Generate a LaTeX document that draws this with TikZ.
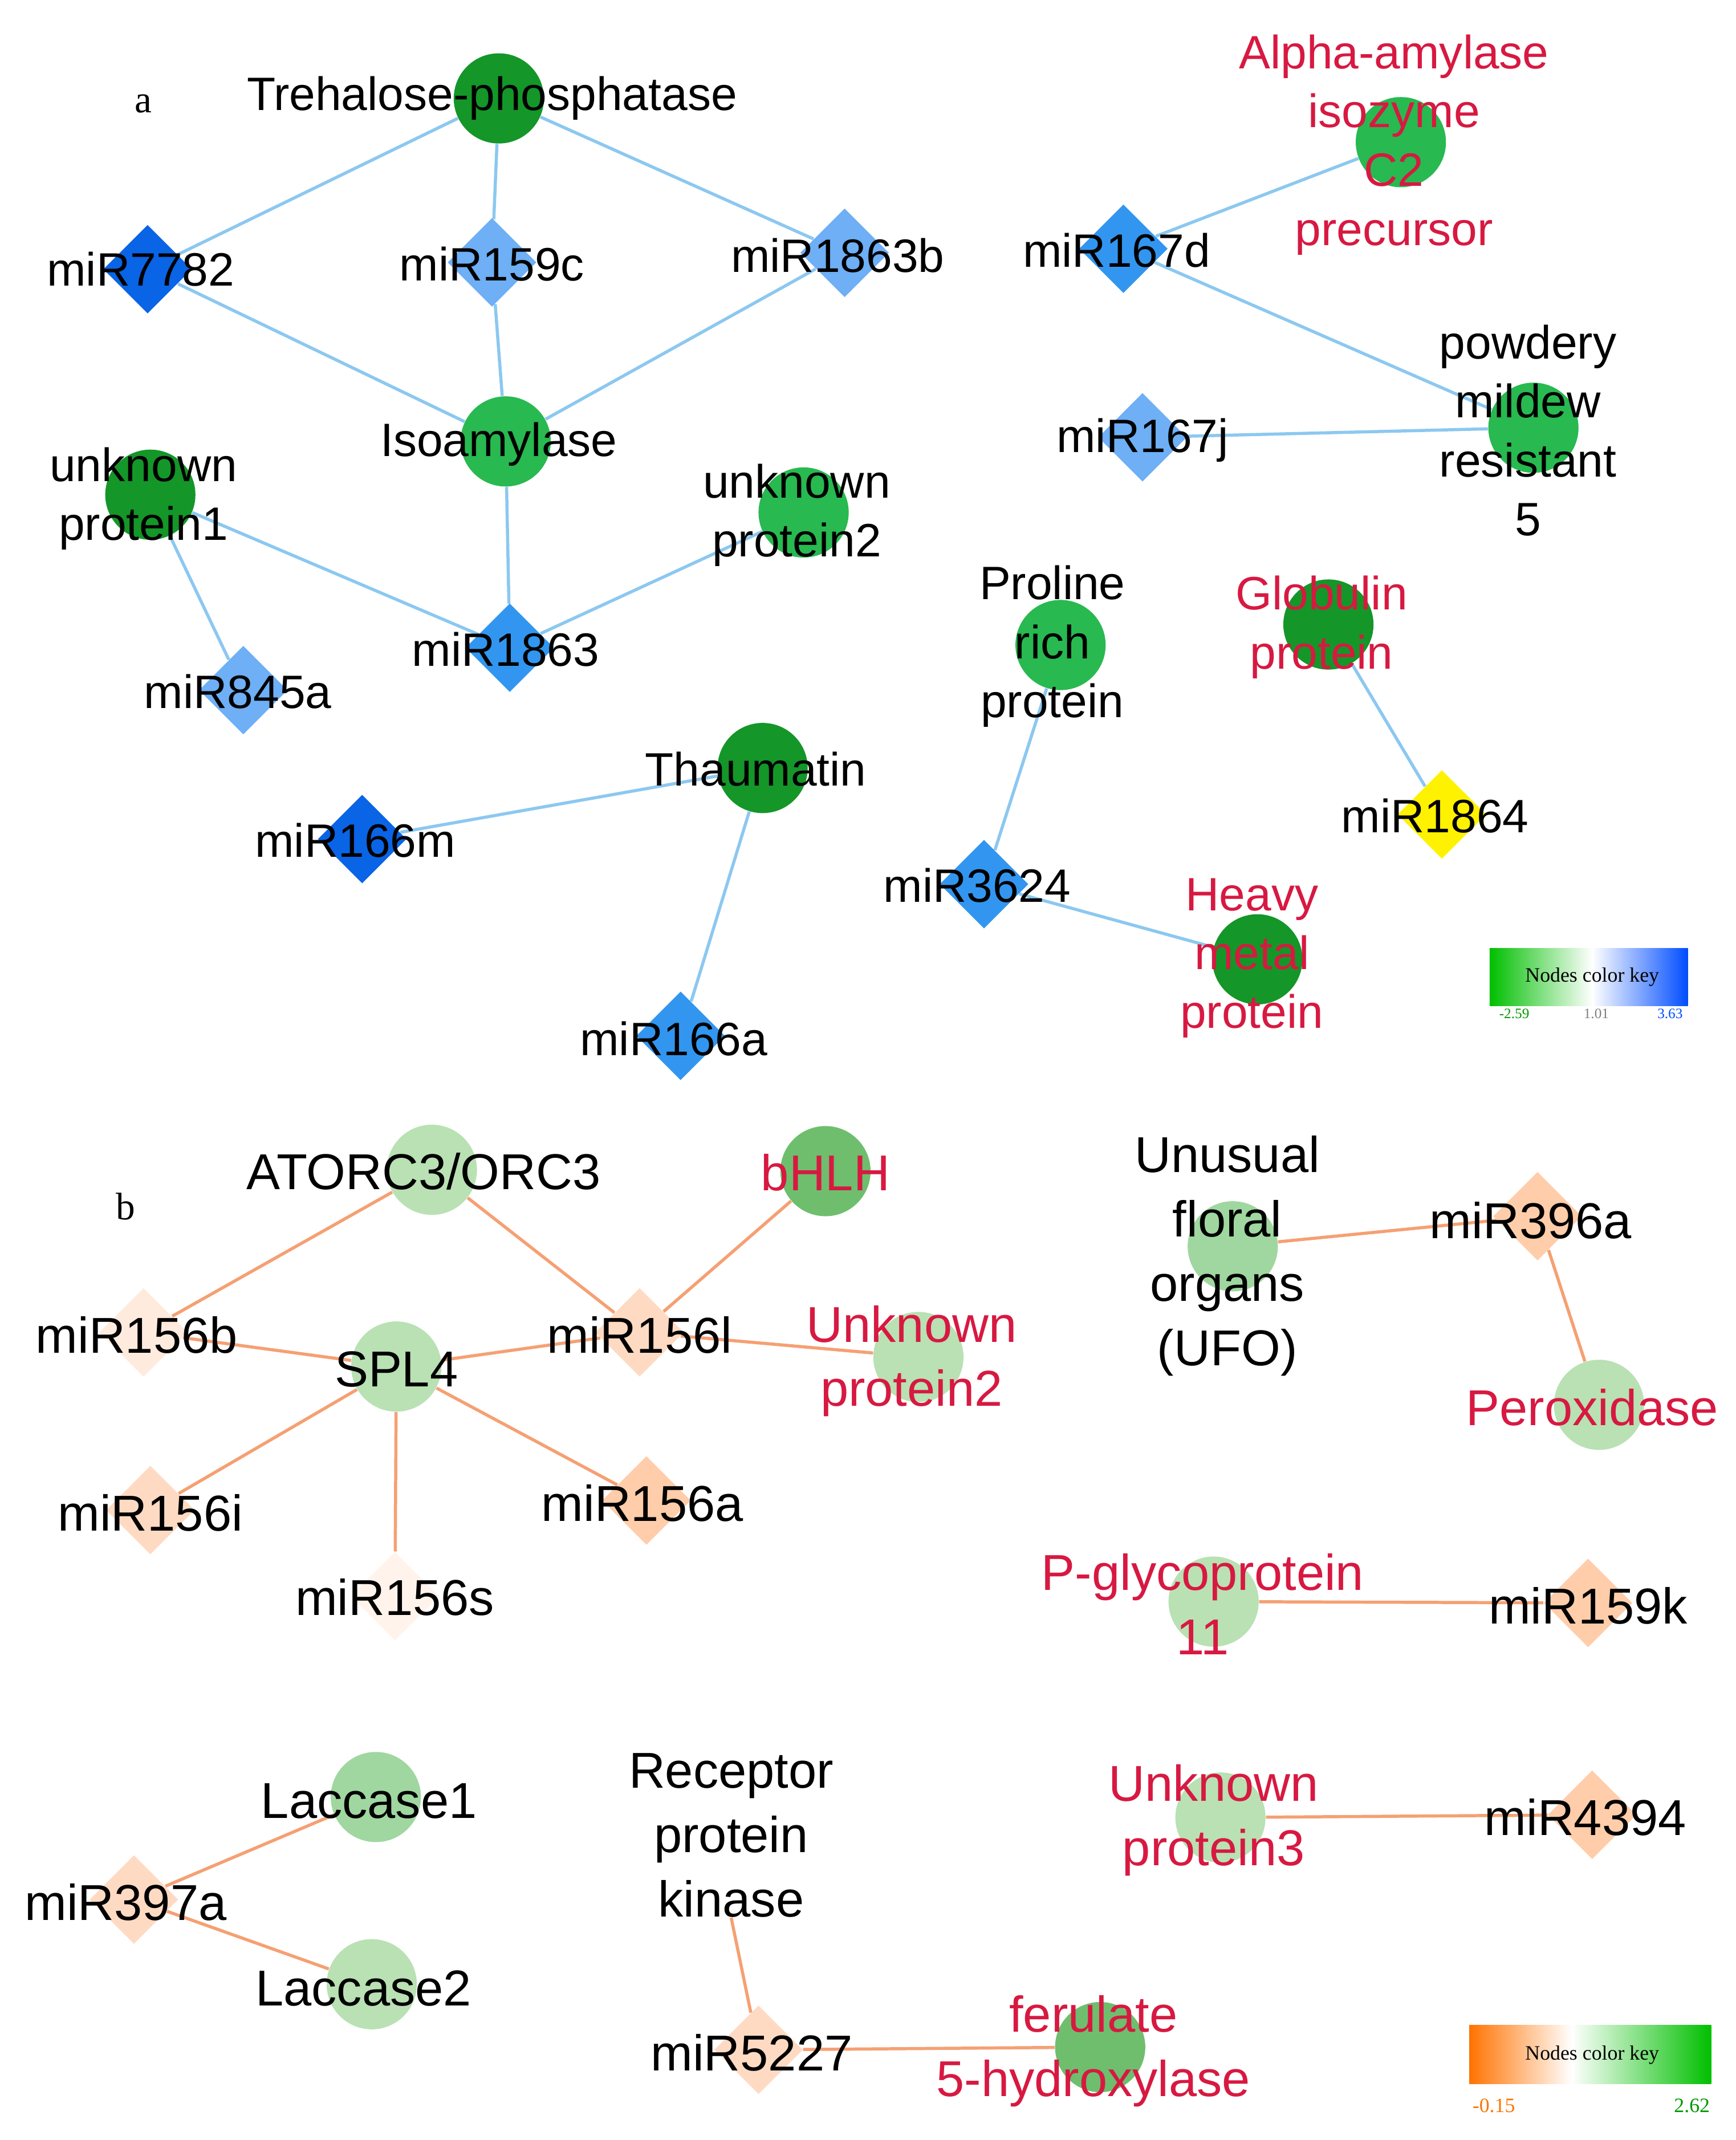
\documentclass[tikz,border=0pt]{standalone}
\usepackage{fontspec}
\setmainfont{Liberation Sans}
\newfontfamily\serifk{Liberation Serif}
\usetikzlibrary{shapes.geometric,backgrounds}
\definecolor{ea}{RGB}{140,200,240}
\definecolor{eb}{RGB}{245,160,115}
\definecolor{rt}{RGB}{215,25,65}
\definecolor{dg}{RGB}{20,150,40}
\definecolor{mg}{RGB}{40,185,80}
\definecolor{lg}{RGB}{185,225,180}
\definecolor{lg2}{RGB}{160,215,160}
\definecolor{bg}{RGB}{110,190,110}
\definecolor{db}{RGB}{10,100,230}
\definecolor{mb}{RGB}{50,150,240}
\definecolor{lb}{RGB}{110,175,245}
\definecolor{p1}{RGB}{255,235,222}
\definecolor{p2}{RGB}{255,218,195}
\definecolor{p3}{RGB}{255,205,170}
\tikzset{x=0.02cm,y=-0.02cm,
 circ/.style={circle,minimum size=1.32cm,inner sep=0,draw=none},
 dia/.style={diamond,minimum size=1.3cm,inner sep=0,draw=none},
 t/.style={font=\fontsize{19.5}{24.5}\selectfont,align=center,inner sep=0},
 r/.style={t,text=rt},
 tb/.style={font=\fontsize{21}{26.8}\selectfont,align=center,inner sep=0},
 rb/.style={tb,text=rt},
 la/.style={draw=ea,line width=1.3pt},
 lbb/.style={draw=eb,line width=1.3pt},
 key/.style={font=\serifk\fontsize{8.5}{9}\selectfont,inner sep=0}}
\begin{document}
\begin{tikzpicture}
\useasboundingbox (0,0) rectangle (1270,1566);
% panel a
\node[font=\serifk\fontsize{16}{18}\selectfont] (la) at (105,76) {a};
\node[circ,fill=dg] (tre) at (365,72) {};
\node[dia,fill=db] (m7782) at (108,197) {};
\node[dia,fill=lb] (m159c) at (360,192) {};
\node[dia,fill=lb] (m1863b) at (618,185) {};
\node[circ,fill=mg] (iso) at (370,323) {};
\node[circ,fill=dg] (u1) at (110,362) {};
\node[circ,fill=mg] (u2) at (588,375) {};
\node[dia,fill=mb] (m1863) at (373,474) {};
\node[dia,fill=lb] (m845a) at (178,505) {};
\node[circ,fill=mg] (alp) at (1025,104) {};
\node[dia,fill=mb] (m167d) at (822,182) {};
\node[circ,fill=mg] (pow) at (1122,313) {};
\node[dia,fill=lb] (m167j) at (836,320) {};
\node[circ,fill=mg] (pro) at (776,472) {};
\node[circ,fill=dg] (glo) at (972,457) {};
\node[dia,fill=yellow] (m1864) at (1055,596) {};
\node[circ,fill=dg] (tha) at (558,562) {};
\node[dia,fill=db] (m166m) at (265,614) {};
\node[dia,fill=mb] (m166a) at (498,758) {};
\node[dia,fill=mb] (m3624) at (720,647) {};
\node[circ,fill=dg] (hea) at (920,702) {};
\begin{pgfonlayer}{background}
\draw[la] (tre)--(m7782) (tre)--(m159c) (tre)--(m1863b) (m7782)--(iso) (m159c)--(iso) (m1863b)--(iso)
 (iso)--(m1863) (u1)--(m1863) (u1)--(m845a) (u2)--(m1863) (alp)--(m167d) (m167d)--(pow) (m167j)--(pow)
 (pro)--(m3624) (m3624)--(hea) (glo)--(m1864) (tha)--(m166m) (tha)--(m166a);
\end{pgfonlayer}
\node[t] (ttre) at (360,72) {Trehalose-phosphatase};
\node[t] (t7782) at (103,197) {miR7782};
\node[t] (t159c) at (360,193) {miR159c};
\node[t] (t1863b) at (613,187) {miR1863b};
\node[t] (tiso) at (365,325) {Isoamylase};
\node[t] (tu1) at (105,365) {unknown\\protein1};
\node[t] (tu2) at (583,377) {unknown\\protein2};
\node[t] (t1863) at (370,475) {miR1863};
\node[t] (t845a) at (174,506) {miR845a};
\node[r] (talp) at (1020,106) {Alpha-amylase\\isozyme\\C2\\precursor};
\node[t] (t167d) at (817,183) {miR167d};
\node[t] (tpow) at (1118,315) {powdery\\mildew\\resistant\\5};
\node[t] (t167j) at (836,322) {miR167j};
\node[t] (tpro) at (770,473) {Proline\\rich\\protein};
\node[r] (tglo) at (967,459) {Globulin\\protein};
\node[t] (t1864) at (1050,597) {miR1864};
\node[t] (ttha) at (553,563) {Thaumatin};
\node[t] (t166m) at (260,615) {miR166m};
\node[t] (t166a) at (493,760) {miR166a};
\node[t] (t3624) at (715,648) {miR3624};
\node[r] (thea) at (916,701) {Heavy\\metal\\protein};
\shade[left color=green!75!black,right color=white] (1090,694) rectangle (1165,736);
\shade[left color=white,right color=blue!70!cyan] (1165,694) rectangle (1235,736);
\node[key] (ka) at (1165,715) {Nodes color key};
\node[key,text=green!60!black,font=\serifk\fontsize{6}{6}\selectfont] (ka1) at (1108,742) {-2.59};
\node[key,text=gray,font=\serifk\fontsize{6}{6}\selectfont] (ka2) at (1168,742) {1.01};
\node[key,text=blue!70!cyan,font=\serifk\fontsize{6}{6}\selectfont] (ka3) at (1222,742) {3.63};
% panel b
\node[font=\serifk\fontsize{16}{18}\selectfont] (lb) at (92,883) {b};
\node[circ,fill=lg] (ato) at (316,856) {};
\node[circ,fill=bg] (bh) at (604,857) {};
\node[dia,fill=p1] (m156b) at (105,975) {};
\node[circ,fill=lg] (spl) at (290,1000) {};
\node[dia,fill=p2] (m156l) at (468,975) {};
\node[circ,fill=lg] (up2) at (672,993) {};
\node[dia,fill=p2] (m156i) at (110,1105) {};
\node[dia,fill=p3] (m156a) at (473,1098) {};
\node[dia,fill=p1!60] (m156s) at (289,1168) {};
\node[circ,fill=lg2] (ufo) at (902,912) {};
\node[dia,fill=p3] (m396a) at (1125,890) {};
\node[circ,fill=lg] (per) at (1170,1028) {};
\node[circ,fill=lg] (pgl) at (888,1172) {};
\node[dia,fill=p3] (m159k) at (1162,1173) {};
\node[circ,fill=lg] (up3) at (893,1330) {};
\node[dia,fill=p3] (m4394) at (1165,1328) {};
\node[circ,fill=lg2] (lac1) at (275,1315) {};
\node[circ,fill=lg] (lac2) at (272,1452) {};
\node[dia,fill=p2] (m397a) at (98,1390) {};
\node[tb] (trec) at (535,1343) {Receptor\\protein\\kinase};
\node[dia,fill=p2] (m5227) at (555,1500) {};
\node[circ,fill=bg] (fer) at (805,1498) {};
\begin{pgfonlayer}{background}
\draw[lbb] (ato)--(m156b) (ato)--(m156l) (bh)--(m156l) (m156b)--(spl) (spl)--(m156l) (m156l)--(up2)
 (spl)--(m156i) (spl)--(m156a) (spl)--(m156s) (ufo)--(m396a) (m396a)--(per) (pgl)--(m159k) (up3)--(m4394)
 (m397a)--(lac1) (m397a)--(lac2) (trec.south)--(m5227) (m5227)--(fer);
\end{pgfonlayer}
\node[tb] (tato) at (310,857) {ATORC3/ORC3};
\node[rb] (tbh) at (604,858) {bHLH};
\node[tb] (t156b) at (100,977) {miR156b};
\node[tb] (tspl) at (290,1002) {SPL4};
\node[tb] (t156l) at (468,977) {miR156l};
\node[rb] (tup2) at (667,996) {Unknown\\protein2};
\node[tb] (t156i) at (110,1107) {miR156i};
\node[tb] (t156a) at (470,1100) {miR156a};
\node[tb] (t156s) at (289,1169) {miR156s};
\node[tb] (tufo) at (898,919) {Unusual\\floral\\organs\\(UFO)};
\node[tb] (t396a) at (1120,893) {miR396a};
\node[rb] (tper) at (1165,1030) {Peroxidase};
\node[rb] (tpgl) at (880,1174) {P-glycoprotein\\11};
\node[tb] (t159k) at (1162,1175) {miR159k};
\node[rb] (tup3) at (888,1332) {Unknown\\protein3};
\node[tb] (t4394) at (1160,1330) {miR4394};
\node[tb] (tlac1) at (270,1318) {Laccase1};
\node[tb] (tlac2) at (266,1455) {Laccase2};
\node[tb] (t397a) at (92,1392) {miR397a};
\node[tb] (t5227) at (550,1502) {miR5227};
\node[rb] (tfer) at (800,1501) {ferulate\\5-hydroxylase};
\shade[left color=orange!90!red,right color=white] (1075,1482) rectangle (1150,1525);
\shade[left color=white,right color=green!75!black] (1150,1482) rectangle (1252,1525);
\node[key] (kb) at (1165,1504) {Nodes color key};
\node[key,text=orange!90!red] (kb1) at (1093,1541) {-0.15};
\node[key,text=green!60!black] (kb2) at (1238,1541) {2.62};
\end{tikzpicture}
\end{document}
